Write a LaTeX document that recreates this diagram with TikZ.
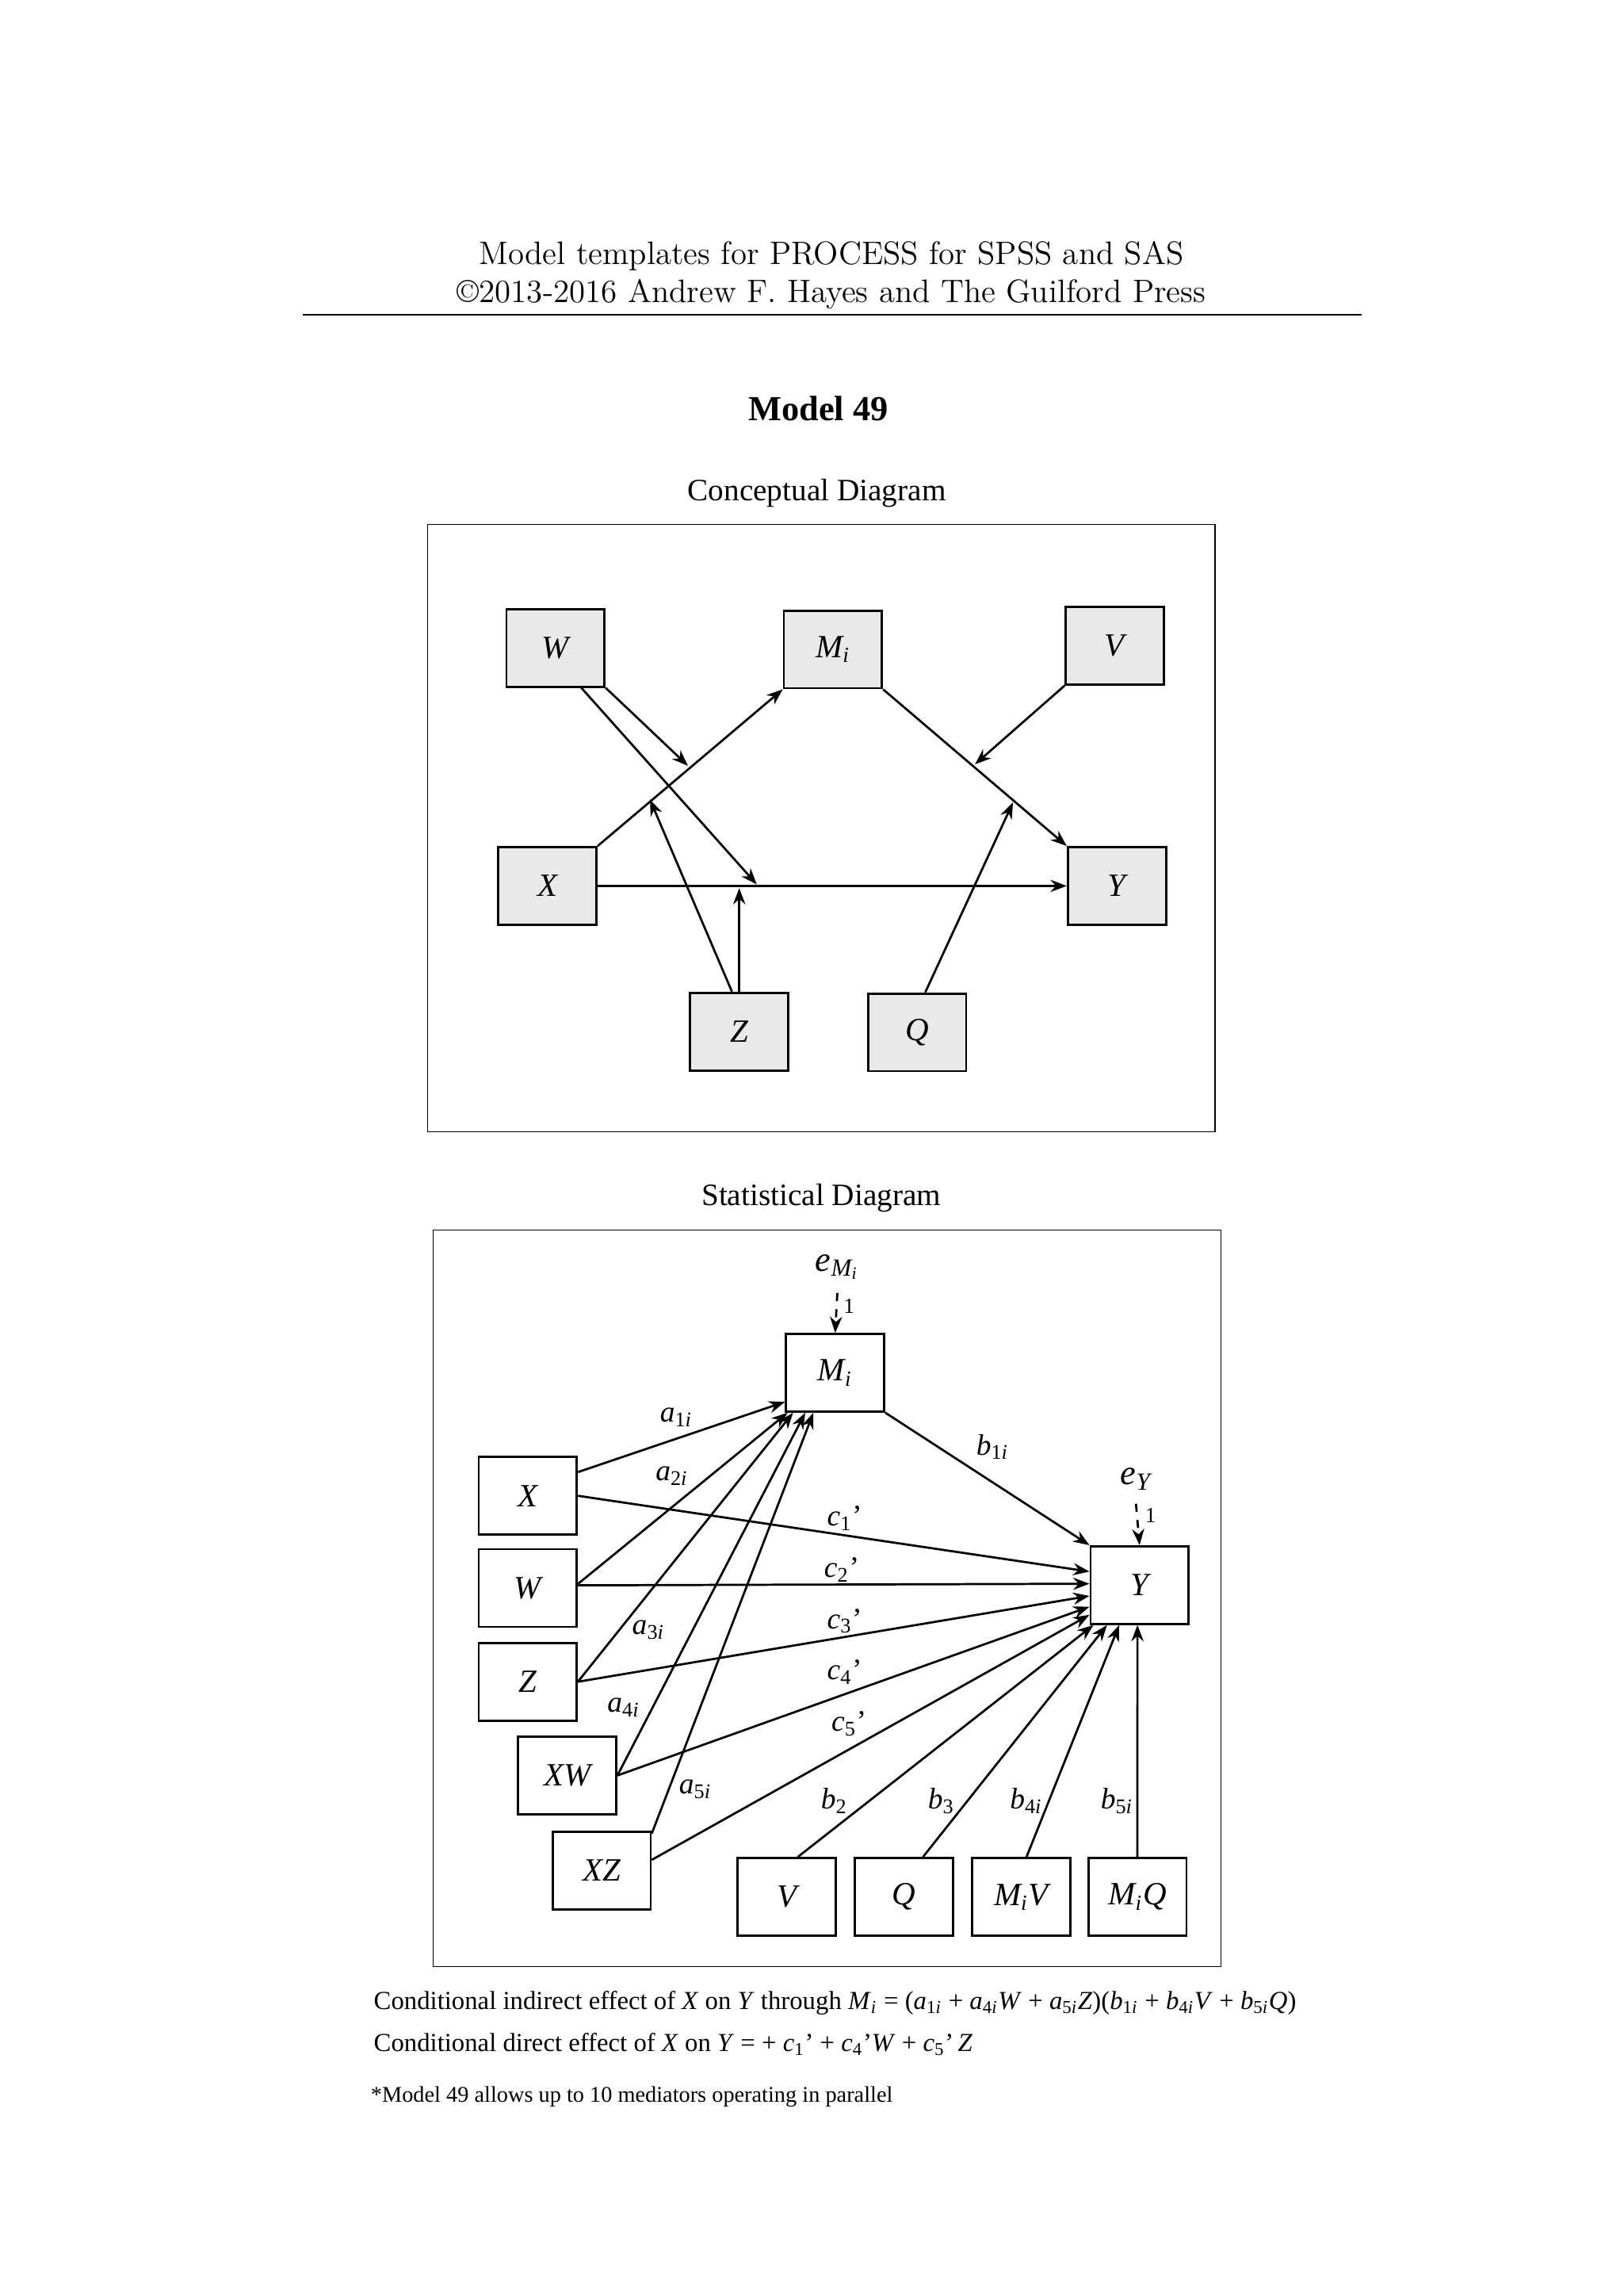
\documentclass[tikz,border=0pt]{standalone}
\usepackage{fontspec}
\setmainfont{Liberation Serif}
\newfontfamily\lmfont{Latin Modern Roman}
\usetikzlibrary{arrows.meta}
\newcommand\ii[1]{\textit{#1}}
\newcommand\sbx[1]{\textsubscript{#1}}
\begin{document}
\begin{tikzpicture}[x=0.5412pt,y=-0.5412pt,
  cbox/.style={draw,thick,fill=gray!17,minimum width=36.3pt,minimum height=28.7pt,inner sep=0pt,font=\fontsize{12}{12}\selectfont\itshape},
  sbox/.style={draw,thick,fill=white,minimum width=36.3pt,minimum height=28.7pt,inner sep=0pt,font=\fontsize{12}{12}\selectfont\itshape},
  ar/.style={thick,-{Stealth[length=6pt,width=4.5pt]}},
  lab/.style={font=\fontsize{11}{11}\selectfont,inner sep=0pt},
  txt/.style={font=\fontsize{9.6}{9.6}\selectfont,inner sep=0pt,anchor=west}]
\useasboundingbox (0,0) rectangle (1109,1568);
% header
\node[font=\lmfont\fontsize{12}{12}\selectfont] (h1) at (568,175) {Model templates for PROCESS for SPSS and SAS};
\node[font=\lmfont\fontsize{12}{12}\selectfont] (h2) at (568,201) {\textcopyright2013-2016 Andrew F. Hayes and The Guilford Press};
\coordinate (hl1) at (207,215); \coordinate (hl2) at (930,215);
\draw (hl1) -- (hl2);
\node[font=\fontsize{13}{13}\selectfont\bfseries] (title) at (559,279) {Model 49};
\node[font=\fontsize{11.5}{11.5}\selectfont] (ct) at (558,337) {Conceptual Diagram};
\node[font=\fontsize{11.5}{11.5}\selectfont] (st) at (561,818) {Statistical Diagram};
% conceptual
\node[draw,minimum width=291.2pt,minimum height=224.6pt,inner sep=0pt] (cframe) at (561,565.5) {};
\node[cbox] (cW) at (379.5,442.5) {W};
\node[cbox] (cM) at (569,443.5) {M\sbx{i}};
\node[cbox] (cV) at (761.5,441) {V};
\node[cbox] (cX) at (374,605) {X};
\node[cbox] (cY) at (763,605) {Y};
\node[cbox] (cZ) at (505,704.5) {Z};
\node[cbox] (cQ) at (626.5,705) {Q};
\draw[ar] (cX.north east) -- (cM.south west);
\draw[ar] (cX.east) -- (cY.west);
\draw[ar] (cM.south east) -- (cY.north west);
\coordinate (p1) at (470,523); \coordinate (p2) at (517,604);
\coordinate (p3) at (505,606.5); \coordinate (p4) at (444,546);
\coordinate (p5) at (692,548); \coordinate (p6) at (666,522);
\draw[ar] (cW.south east) -- (p1);
\draw[ar] ([xshift=-9pt]cW.south east) -- (p2);
\draw[ar] (cZ.north) -- (p3);
\draw[ar] ([xshift=-2.7pt]cZ.north) -- (p4);
\draw[ar] ([xshift=3pt]cQ.north) -- (p5);
\draw[ar] (cV.south west) -- (p6);
% statistical
\node[draw,minimum width=291.2pt,minimum height=272.2pt,inner sep=0pt] (sframe) at (565,1091.5) {};
\node[sbox] (M) at (570.5,937.5) {M\sbx{i}};
\node[sbox] (X) at (360.5,1021.5) {X};
\node[sbox] (W) at (360.5,1084.5) {W};
\node[sbox] (Z) at (360.5,1148.5) {Z};
\node[sbox] (XW) at (387.5,1212.5) {XW};
\node[sbox] (XZ) at (411,1277.5) {XZ};
\node[sbox] (Y) at (778.5,1082.5) {Y};
\node[sbox] (V) at (537.5,1295.5) {V};
\node[sbox] (Q) at (617.5,1295.5) {Q};
\node[sbox] (MV) at (697.5,1295.5) {M\sbx{i}V};
\node[sbox] (MQ) at (777,1295.5) {M\sbx{i}Q};
\node[font=\fontsize{13}{13}\selectfont\itshape,inner sep=0pt] (eM) at (572,865) {e\sbx{M\textsubscript{i}}};
\node[font=\fontsize{13}{13}\selectfont\itshape,inner sep=0pt] (eY) at (776,1010) {e\sbx{Y}};
\draw[thick,dashed,-{Stealth[length=6pt,width=4.5pt]}] ([yshift=-5pt]eM.south) -- (M.north);
\draw[thick,dashed,-{Stealth[length=6pt,width=4.5pt]}] ([yshift=-5pt]eY.south) -- (Y.north);
\node[font=\fontsize{8}{8}\selectfont] (one1) at (580,892) {1};
\node[font=\fontsize{8}{8}\selectfont] (one2) at (786,1035) {1};
% to M
\draw[ar] ([yshift=-6pt]X.north east) -- ([yshift=4pt]M.south west);
\draw[ar] ([yshift=1.5pt]W.east) -- ([xshift=1pt]M.south west);
\draw[ar] (Z.east) -- ([xshift=3pt]M.south west);
\draw[ar] (XW.east) -- ([xshift=7.5pt]M.south west);
\draw[ar] ([yshift=-1pt]XZ.north east) -- ([xshift=10.5pt]M.south west);
% to Y
\draw[ar] (M.south east) -- (Y.north west);
\draw[ar] (X.east) -- ([yshift=5pt]Y.west);
\draw[ar] ([yshift=1pt]W.east) -- ([yshift=0.5pt]Y.west);
\draw[ar] (Z.east) -- ([yshift=-4pt]Y.west);
\draw[ar] (XW.east) -- ([yshift=-8pt]Y.west);
\draw[ar] ([yshift=4pt]XZ.east) -- ([yshift=-11pt]Y.west);
\draw[ar] ([xshift=4pt]V.north) -- ([xshift=1.5pt]Y.south west);
\draw[ar] ([xshift=7pt]Q.north) -- ([xshift=6.5pt]Y.south west);
\draw[ar] ([xshift=2pt]MV.north) -- ([xshift=11pt]Y.south west);
\draw[ar] (MQ.north) -- ([xshift=-0.8pt]Y.south);
% labels
\node[lab] (la1) at (462,968) {\ii{a}\sbx{1\ii{i}}};
\node[lab] (la2) at (459,1008) {\ii{a}\sbx{2\ii{i}}};
\node[lab] (la3) at (443,1113) {\ii{a}\sbx{3\ii{i}}};
\node[lab] (la4) at (426,1166) {\ii{a}\sbx{4\ii{i}}};
\node[lab] (la5) at (475,1222) {\ii{a}\sbx{5\ii{i}}};
\node[lab] (lb1) at (678,988) {\ii{b}\sbx{1\ii{i}}};
\node[lab] (lc1) at (577,1037) {\ii{c}\sbx{1}'};
\node[lab] (lc2) at (575,1072) {\ii{c}\sbx{2}'};
\node[lab] (lc3) at (577,1107) {\ii{c}\sbx{3}'};
\node[lab] (lc4) at (577,1142) {\ii{c}\sbx{4}'};
\node[lab] (lc5) at (580,1177) {\ii{c}\sbx{5}'};
\node[lab] (lb2) at (570,1230) {\ii{b}\sbx{2}};
\node[lab] (lb3) at (643,1230) {\ii{b}\sbx{3}};
\node[lab] (lb4) at (701,1230) {\ii{b}\sbx{4\ii{i}}};
\node[lab] (lb5) at (763,1230) {\ii{b}\sbx{5\ii{i}}};
% footer
\node[txt] (f1) at (255,1368) {Conditional indirect effect of \ii{X} on \ii{Y} through \ii{M}\sbx{\ii{i}} = (\ii{a}\sbx{1\ii{i}} + \ii{a}\sbx{4\ii{i}}\ii{W} + \ii{a}\sbx{5\ii{i}}\ii{Z})(\ii{b}\sbx{1\ii{i}} + \ii{b}\sbx{4\ii{i}}\ii{V} + \ii{b}\sbx{5\ii{i}}\ii{Q})};
\node[txt] (f2) at (255,1396) {Conditional direct effect of \ii{X} on \ii{Y} = + \ii{c}\sbx{1}' + \ii{c}\sbx{4}'\ii{W} + \ii{c}\sbx{5}'\,\ii{Z}};
\node[txt,font=\fontsize{8.3}{8.3}\selectfont] (f3) at (253,1432) {*Model 49 allows up to 10 mediators operating in parallel};
\end{tikzpicture}
\end{document}
